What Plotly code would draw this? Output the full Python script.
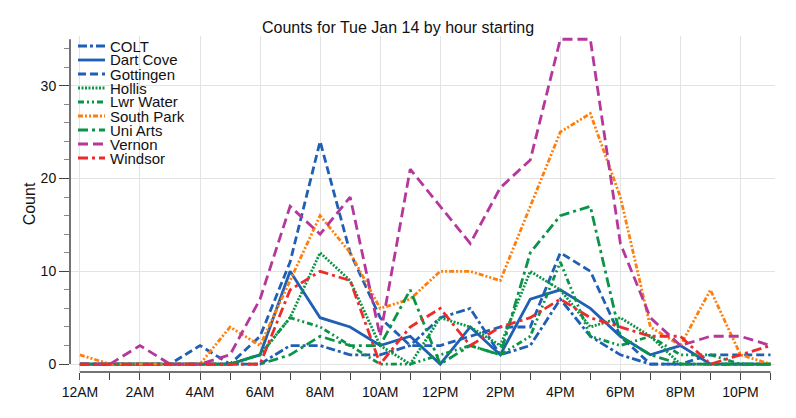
import plotly.graph_objects as go

hours = list(range(24))
tick_hours = [0, 2, 4, 6, 8, 10, 12, 14, 16, 18, 20, 22]
tick_labels = ["12AM", "2AM", "4AM", "6AM", "8AM", "10AM", "12PM", "2PM", "4PM", "6PM", "8PM", "10PM"]

colt       = [0, 0, 0, 0, 0, 0, 0, 2, 2, 1, 1, 2, 5, 6, 1, 2, 7, 3, 1, 0, 0, 0, 0, 0]
dart_cove  = [0, 0, 0, 0, 0, 0, 1, 10, 5, 4, 2, 3, 0, 4, 1, 7, 8, 6, 3, 1, 2, 0, 0, 0]
gottingen  = [0, 0, 0, 0, 2, 0, 3, 11, 24, 12, 5, 2, 2, 3, 4, 4, 12, 10, 3, 0, 0, 1, 1, 1]
hollis     = [0, 0, 0, 0, 0, 0, 1, 5, 12, 9, 2, 0, 5, 4, 2, 10, 8, 4, 5, 3, 0, 0, 0, 0]
lwr_water  = [0, 0, 0, 0, 0, 0, 1, 5, 4, 2, 0, 0, 1, 2, 1, 3, 11, 3, 2, 3, 1, 1, 0, 0]
south_park = [1, 0, 0, 0, 0, 4, 2, 9, 16, 12, 6, 7, 10, 10, 9, 17, 25, 27, 18, 4, 2, 8, 1, 0]
uni_arts   = [0, 0, 0, 0, 0, 0, 0, 1, 3, 2, 2, 8, 0, 2, 1, 12, 16, 17, 3, 1, 0, 0, 0, 0]
vernon     = [0, 0, 2, 0, 0, 1, 7, 17, 14, 18, 3, 21, 17, 13, 19, 22, 35, 35, 13, 5, 2, 3, 3, 2]
windsor    = [0, 0, 0, 0, 0, 0, 0, 8, 10, 9, 0, 4, 6, 2, 4, 5, 7, 5, 4, 3, 3, 0, 1, 2]

BLUE = "#1f5fb4"
GREEN = "#0a9447"
ORANGE = "#ff7f0e"
MAGENTA = "#b5379c"
RED = "#ee2b2b"

series = [
    ("COLT", colt, BLUE, "9px,3px,3px,3px"),
    ("Dart Cove", dart_cove, BLUE, "solid"),
    ("Gottingen", gottingen, BLUE, "8px,4px"),
    ("Hollis", hollis, GREEN, "2px,1.5px"),
    ("Lwr Water", lwr_water, GREEN, "6px,3px,2px,3px,2px,3px"),
    ("South Park", south_park, ORANGE, "5px,2px,2px,2px,2px,2px"),
    ("Uni Arts", uni_arts, GREEN, "10px,4px,3px,4px"),
    ("Vernon", vernon, MAGENTA, "10px,5px"),
    ("Windsor", windsor, RED, "10px,4px,3px,4px"),
]

FONT = "Liberation Sans, Arial, sans-serif"
W, H = 796, 418
ML, MR, MT, MB = 70, 21, 36, 46
PW, PH = W - ML - MR, H - MT - MB

fig = go.Figure()
for name, vals, color, dash in series:
    fig.add_trace(go.Scatter(
        x=hours, y=vals, name=name, mode="lines", showlegend=False,
        line=dict(color=color, width=2.8, dash=dash),
    ))

# custom compact legend (top-left, inside plot)
def px_x(p):
    return (p - ML) / PW

def px_y(p):
    return (H - MB - p) / PH

for i, (name, vals, color, dash) in enumerate(series):
    yy = px_y(46 + 14 * i)
    fig.add_shape(type="line", xref="paper", yref="paper",
                  x0=px_x(78), x1=px_x(105), y0=yy, y1=yy,
                  line=dict(color=color, width=2.8, dash=dash))
    fig.add_annotation(xref="paper", yref="paper", x=px_x(109), y=yy,
                       text=name, showarrow=False, xanchor="left", yanchor="middle",
                       borderpad=0,
                       font=dict(size=15, color="#111", family=FONT))

fig.update_layout(
    width=W, height=H,
    margin=dict(l=ML, r=MR, t=MT, b=MB),
    paper_bgcolor="white", plot_bgcolor="white",
    font=dict(family=FONT, size=14, color="#222"),
    title=dict(text="Counts for Tue Jan 14 by hour starting", x=0.5, xanchor="center",
               y=0.935, yanchor="middle", font=dict(size=16, color="#111")),
    showlegend=False,
    xaxis=dict(range=[-0.33, 23.15], tickvals=tick_hours, ticktext=tick_labels,
               showgrid=True, gridcolor="#e3e3e3", gridwidth=1, zeroline=False,
               ticks="outside", ticklen=7, tickcolor="#444", showline=False,
               tickfont=dict(size=14, color="#111"),
               minor=dict(dtick=1, tick0=0, ticks="outside", ticklen=7, tickcolor="#444", showgrid=False)),
    yaxis=dict(range=[-0.85, 35.35], tickvals=[0, 10, 20, 30],
               showgrid=True, gridcolor="#e3e3e3", gridwidth=1, zeroline=False,
               ticks="outside", ticklen=10, tickcolor="#444", showline=False,
               tickfont=dict(size=14, color="#111"),
               title=dict(text="Count", font=dict(size=16, color="#111"), standoff=1),
               minor=dict(dtick=2, tick0=0, ticks="outside", ticklen=5, tickcolor="#888", showgrid=False)),
)

# offset axis lines spanning the data range
fig.add_shape(type="line", xref="x", yref="paper", x0=0, x1=23, y0=0, y1=0,
              line=dict(color="#444", width=1.5))
fig.add_shape(type="line", xref="paper", yref="y", x0=0, x1=0, y0=0, y1=35,
              line=dict(color="#444", width=1.5))

fig.write_html("out.html")
